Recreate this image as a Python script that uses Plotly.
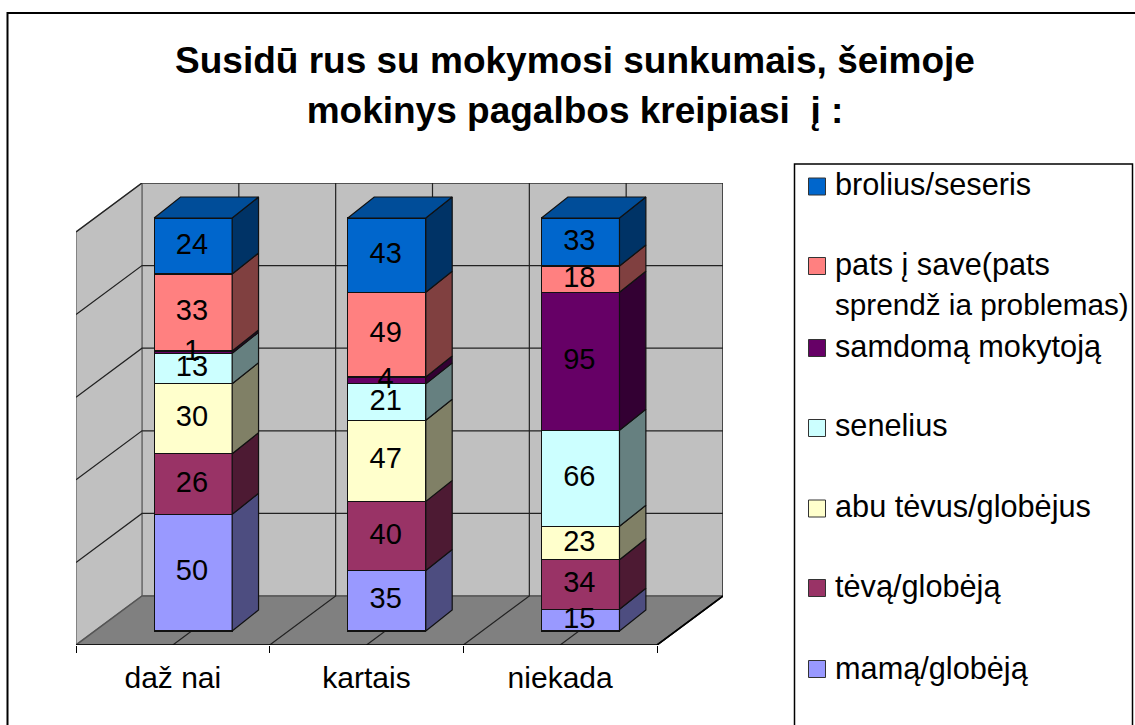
import numpy as np
import plotly.graph_objects as go

categories = ["daž nai", "kartais", "niekada"]
series_names = ["mamą/globėją", "tėvą/globėją", "abu tėvus/globėjus", "senelius",
                "samdomą mokytoją", "pats į save(pats<br><span style=\"font-size:29.7px\">sprendž ia problemas)</span>",
                "brolius/seseris"]
mama = [50, 35, 15]
teva = [26, 40, 34]
abu = [30, 47, 23]
senelius = [13, 21, 66]
samdoma = [1, 4, 95]
pats = [33, 49, 18]
brolius = [24, 43, 33]
series_values = [mama, teva, abu, senelius, samdoma, pats, brolius]
front_colors = ["#9999FF", "#993366", "#FFFFCC", "#CCFFFF", "#660066", "#FF8080", "#0066CC"]
side_colors = ["#4D4D80", "#4D1A33", "#808066", "#668080", "#330033", "#804040", "#003366"]
top_color = "#004D99"
wall_color = "#C0C0C0"
floor_color = "#808080"
edge = "#111111"
grid = "#222222"

W, H = 1135, 725
# plot box in pixels
L, R, T, B = 76, 723, 183, 645
PX_PER_CAT = 193.67
PX_PER_PCT = 4.13

x_range = [-0.5, -0.5 + (R - L) / PX_PER_CAT]
y_range = [0, (B - T) / PX_PER_PCT]
# floor/wall depth in data units
DX, DY = 66 / PX_PER_CAT, 49 / PX_PER_PCT
# front of the bars sits part-way into the depth
BX, BY = 20.3 / PX_PER_CAT, 14 / PX_PER_PCT
# bar width and own depth
BW = 78 / PX_PER_CAT
SX, SY = 26.4 / PX_PER_CAT, 21 / PX_PER_PCT

pos = np.arange(len(categories))
fig = go.Figure()


def poly(xs, ys, fill, line=None, width=1.2, axes=("x", "y")):
    fig.add_trace(go.Scatter(
        x=list(xs) + [xs[0]], y=list(ys) + [ys[0]], mode="lines", fill="toself",
        fillcolor=fill, line=dict(color=line or fill, width=width),
        xaxis=axes[0], yaxis=axes[1], hoverinfo="skip", showlegend=False, cliponaxis=False))


def seg(xs, ys, color=grid, width=1.2):
    fig.add_trace(go.Scatter(x=xs, y=ys, mode="lines", line=dict(color=color, width=width),
                             hoverinfo="skip", showlegend=False, cliponaxis=False))


x0, x1 = x_range[0], 2.5
# walls and floor
poly([x0 + DX, x1 + DX, x1 + DX, x0 + DX], [DY, DY, 100 + DY, 100 + DY], wall_color, "#707070", 1.5)
poly([x0, x0 + DX, x0 + DX, x0], [0, DY, 100 + DY, 100], wall_color, "#707070", 1.5)
poly([x0, x1, x1 + DX, x0 + DX], [0, 0, DY, DY], floor_color, "#555555", 1.5)
# gridlines
for p in range(20, 101, 20):
    seg([x0, x0 + DX, x1 + DX], [p, p + DY, p + DY])
for c in np.arange(x0 + 0.5, x1 + 0.01, 0.5):
    seg([c, c + DX, c + DX], [0, DY, 100 + DY])
seg([x0, x1, x1 + DX], [0, 0, DY], "#000000", 1.6)

# bars drawn by the library as a normalised stack
for name, vals, col in zip(series_names, series_values, front_colors):
    fig.add_trace(go.Bar(x=pos, y=vals, name=name.split("<br>")[0],
                         marker=dict(color=col, line=dict(color=edge, width=1.2)),
                         width=BW, xaxis="x2", yaxis="y2", showlegend=False))

arr = np.array(series_values, dtype=float)
pct = arr / arr.sum(axis=0) * 100
cum = np.vstack([np.zeros(len(categories)), np.cumsum(pct, axis=0)])
ax2 = ("x2", "y2")
for j, xc in enumerate(pos):
    xr = xc + BW / 2
    xl = xc - BW / 2
    for i in range(len(series_values)):
        y0, y1 = cum[i, j], cum[i + 1, j]
        poly([xr, xr + SX, xr + SX, xr], [y0, y0 + SY, y1 + SY, y1], side_colors[i], edge, axes=ax2)
    poly([xl, xr, xr + SX, xl + SX], [100, 100, 100 + SY, 100 + SY], top_color, edge, axes=ax2)

# data labels
lx, ly, lt = [], [], []
for i in range(len(series_values)):
    for j, xc in enumerate(pos):
        lx.append(xc - 0.006)
        ly.append((cum[i, j] + cum[i + 1, j]) / 2 - 0.1)
        lt.append(str(series_values[i][j]))
fig.add_trace(go.Scatter(x=lx, y=ly, text=lt, mode="text", textposition="middle center",
                         textfont=dict(size=29, color="#000000", family="Liberation Sans"),
                         xaxis="x2", yaxis="y2", hoverinfo="skip", showlegend=False, cliponaxis=False))


def fx(px):
    return (px - L) / (R - L)


def fy(py):
    return (B - py) / (B - T)


shapes = [
    # chart frame
    dict(type="rect", xref="paper", yref="paper", x0=fx(7.5), x1=fx(W + 20), y0=fy(H + 20), y1=fy(13),
         line=dict(color="#000000", width=2), fillcolor="rgba(0,0,0,0)", layer="below"),
    # legend box
    dict(type="rect", xref="paper", yref="paper", x0=fx(794.5), x1=fx(1132.5), y0=fy(H + 20), y1=fy(164),
         line=dict(color="#000000", width=1.5), fillcolor="#FFFFFF", layer="below"),
]
annotations = []
legend_y = [668, 586.5, 506.5, 425.5, 346, 284, 185]
swatch_y = [669, 588, 508.5, 428, 348, 266, 186.5]
for name, col, ty, sy in zip(series_names, front_colors, legend_y, swatch_y):
    shapes.append(dict(type="rect", xref="paper", yref="paper", x0=fx(808.5), x1=fx(825.5),
                       y0=fy(sy + 8.5), y1=fy(sy - 8.5), fillcolor=col,
                       line=dict(color="#333333", width=1)))
    annotations.append(dict(text=name, xref="paper", yref="paper", x=fx(833), y=fy(ty),
                            xanchor="left", yanchor="middle", align="left", showarrow=False,
                            font=dict(size=30.7, color="#000000", family="Liberation Sans")))

title_text = ('<span style="font-size:37px">Susidū rus su mokymosi sunkumais, šeimoje</span><br>'
              '<span style="font-size:37px">mokinys pagalbos kreipiasi  į :</span>')

fig.update_layout(
    width=W, height=H, autosize=False,
    paper_bgcolor="#FFFFFF", plot_bgcolor="rgba(0,0,0,0)",
    margin=dict(l=L, r=W - R, t=T, b=H - B, pad=0),
    barmode="stack", barnorm="percent", showlegend=False,
    title=dict(text=title_text, x=575 / W, xanchor="center", y=1 - 72.5 / H, yanchor="middle",
               font=dict(size=38.5, color="#000000", family="Liberation Sans", weight="bold")),
    font=dict(family="Liberation Sans", color="#000000"),
    xaxis=dict(range=x_range, showgrid=False, zeroline=False, showline=False,
               tickmode="array", tickvals=list(pos), ticktext=categories,
               ticks="outside", ticklen=6, tickcolor="rgba(0,0,0,0)",
               tickfont=dict(size=30, family="Liberation Sans", color="#000000"),
               minor=dict(tickmode="array", tickvals=[-0.5, 0.5, 1.5, 2.5], ticks="outside",
                          ticklen=7, tickcolor="#000000", tickwidth=1, showgrid=False)),
    yaxis=dict(range=y_range, showgrid=False, zeroline=False, showline=False, showticklabels=False, ticks=""),
    xaxis2=dict(overlaying="x", anchor="y2",
                range=[x_range[0] - BX, x_range[1] - BX],
                visible=False),
    yaxis2=dict(overlaying="y", anchor="x2",
                range=[y_range[0] - BY, y_range[1] - BY],
                visible=False),
    shapes=shapes, annotations=annotations,
)

fig.write_html("out.html", config={"displayModeBar": False},
               post_script="document.body.style.margin='0';document.body.style.overflow='hidden';")
